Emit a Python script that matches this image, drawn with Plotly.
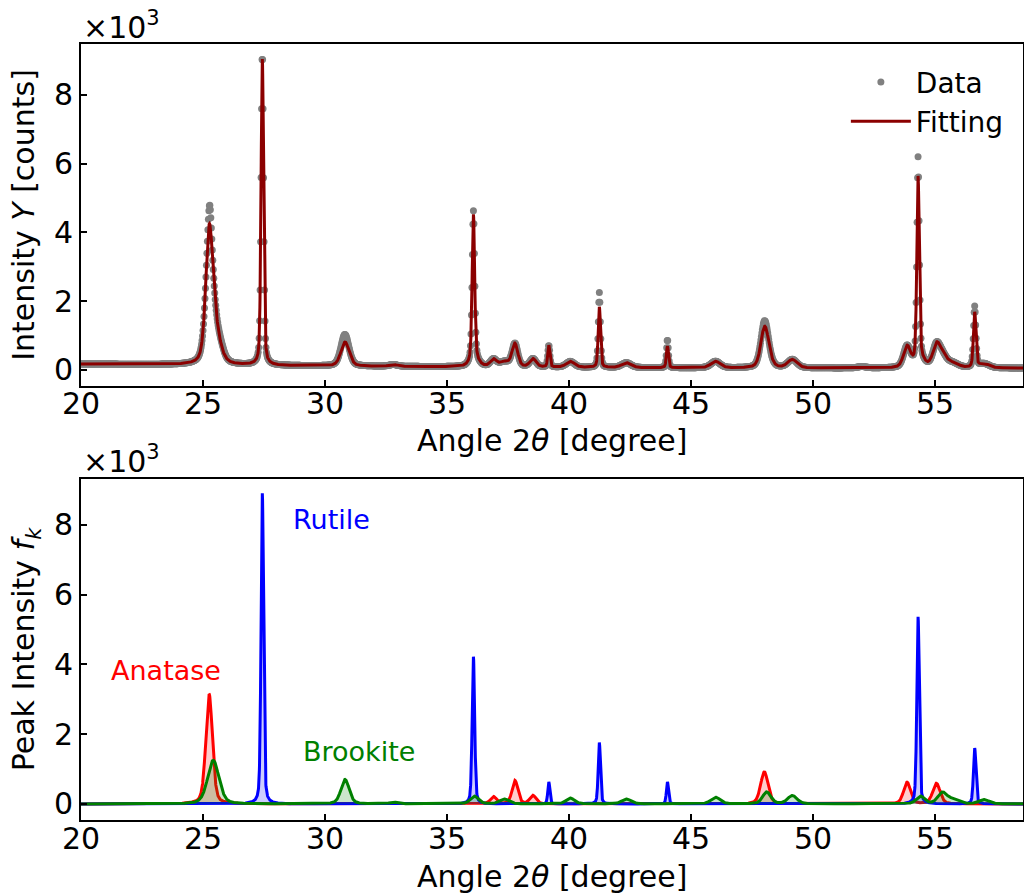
import numpy as np
import plotly.graph_objects as go

# ---------------- data ----------------
# peak parameters: centre (deg), height (counts), FWHM (deg)
anatase_pos = [25.25, 36.90, 37.78, 38.52, 48.00, 53.85, 55.05]
anatase_h = [3150, 210, 670, 240, 920, 620, 590]
anatase_w = [0.32, 0.30, 0.28, 0.30, 0.36, 0.34, 0.36]

rutile_pos = [27.43, 36.08, 39.17, 41.24, 44.03, 54.30, 56.62]
rutile_h = [8900, 4220, 630, 1760, 630, 5360, 1600]
rutile_w = [0.12, 0.12, 0.10, 0.11, 0.10, 0.12, 0.12]

brookite_pos = [25.42, 30.82, 32.80, 36.12, 37.35, 40.05, 42.35, 46.00, 48.10, 49.15, 54.40, 55.30, 55.75, 57.00]
brookite_h = [1250, 700, 50, 220, 140, 170, 140, 190, 340, 240, 220, 320, 120, 120]
brookite_w = [0.55, 0.40, 0.40, 0.40, 0.45, 0.40, 0.45, 0.45, 0.40, 0.45, 0.40, 0.45, 0.50, 0.50]

# extra intensity of the measured points above the fit
excess_pos = [25.28, 25.75, 27.43, 30.80, 36.08, 41.24, 44.03, 48.00, 54.30, 56.62, 52.00]
excess_h = [550, 120, 200, 220, 100, 420, 200, 160, 560, 170, 40]
excess_w = [0.14, 0.30, 0.06, 0.35, 0.06, 0.06, 0.06, 0.30, 0.06, 0.06, 0.40]

# smooth background of the fit (counts) at anchor angles
bg_angle = [20.0, 25.0, 30.0, 35.0, 40.0, 45.0, 50.0, 55.0, 58.6]
bg_counts = [170, 140, 110, 90, 70, 55, 50, 50, 50]

angle_start, angle_stop, angle_step = 20.0, 58.6, 0.02
x_ticks = [20, 25, 30, 35, 40, 45, 50, 55]
x_ticktext = ["20", "25", "30", "35", "40", "45", "50", "55"]
y_ticks = [0, 2000, 4000, 6000, 8000]
y_ticktext = ["0", "2", "4", "6", "8"]

# ---------------- build curves ----------------
x = np.arange(angle_start, angle_stop + 1e-9, angle_step)
x_fine = np.arange(angle_start, angle_stop + 1e-9, 0.005)
ETA = 0.35


def pv(xx, c, h, w):
    d = (xx - c) / w
    lor = 1.0 / (1.0 + 4.0 * d * d)
    gau = np.exp(-4.0 * np.log(2.0) * d * d)
    return h * (ETA * lor + (1 - ETA) * gau)


def phase(xx, pos, hs, ws):
    out = np.zeros_like(xx)
    for c, h, w in zip(pos, hs, ws):
        out += pv(xx, c, h, w)
    return out


ana_f = phase(x_fine, anatase_pos, anatase_h, anatase_w)
rut_f = phase(x_fine, rutile_pos, rutile_h, rutile_w)
bro_f = phase(x_fine, brookite_pos, brookite_h, brookite_w)
fit_f = ana_f + rut_f + bro_f + np.interp(x_fine, bg_angle, bg_counts)

data = (phase(x, anatase_pos, anatase_h, anatase_w)
        + phase(x, rutile_pos, rutile_h, rutile_w)
        + phase(x, brookite_pos, brookite_h, brookite_w)
        + phase(x, excess_pos, excess_h, excess_w)
        + np.interp(x, bg_angle, bg_counts))

FONT = "DejaVu Sans"
FS = 30
LW = 3
fig = go.Figure()

fig.add_trace(go.Scatter(x=x, y=data, mode="markers", name="Data",
                         marker=dict(color="#808080", size=7),
                         xaxis="x", yaxis="y"))
fig.add_trace(go.Scatter(x=x_fine, y=fit_f, mode="lines", name="Fitting",
                         line=dict(color="#8B0000", width=LW),
                         xaxis="x", yaxis="y"))

for yy, col, fillc in [(ana_f, "#FF0000", "rgba(255,0,0,0.2)"),
                       (rut_f, "#0000FF", "rgba(0,0,255,0.2)"),
                       (bro_f, "#008000", "rgba(0,128,0,0.2)")]:
    fig.add_trace(go.Scatter(x=x_fine, y=yy, mode="lines", fill="tozeroy",
                             fillcolor=fillc, line=dict(color=col, width=LW),
                             showlegend=False, xaxis="x2", yaxis="y2"))

axis_common = dict(showline=True, linecolor="black", linewidth=2, mirror=True,
                   ticks="inside", ticklen=6, tickwidth=2, tickcolor="black",
                   showgrid=False, zeroline=False, automargin=False,
                   tickfont=dict(family=FONT, size=FS, color="black"),
                   title_font=dict(family=FONT, size=FS, color="black"))

fig.update_layout(
    width=1024, height=894,
    margin=dict(l=81, r=1, t=44, b=74),
    paper_bgcolor="white", plot_bgcolor="white",
    font=dict(family=FONT, color="black"),
    xaxis=dict(domain=[0, 1], anchor="y", range=[angle_start, angle_stop],
               tickvals=x_ticks, showticklabels=False, **axis_common),
    yaxis=dict(domain=[0.5593, 1], anchor="x", range=[-470, 9480],
               tickvals=y_ticks, ticktext=y_ticktext,
               title=dict(text="Intensity <i>Y</i> [counts]", standoff=10),
               **axis_common),
    xaxis2=dict(domain=[0, 1], anchor="y2", range=[angle_start, angle_stop],
                tickvals=x_ticks, showticklabels=False, **axis_common),
    yaxis2=dict(domain=[0, 0.4394], anchor="x2", range=[-460, 9310],
                tickvals=y_ticks, ticktext=y_ticktext,
                title=dict(text="Peak Intensity <i>f<sub>k</sub></i>", standoff=10),
                **axis_common),
    legend=dict(x=0.985, xanchor="right", y=0.983, yanchor="top", itemwidth=60,
                bgcolor="rgba(0,0,0,0)", font=dict(family=FONT, size=28, color="black")),
    showlegend=True,
)

annos = [
    dict(text="×10<sup>3</sup>", xref="x domain", yref="y domain", x=0, y=1.0,
         xanchor="left", yanchor="bottom", showarrow=False, yshift=-3,
         font=dict(family=FONT, size=30, color="black")),
    dict(text="×10<sup>3</sup>", xref="x2 domain", yref="y2 domain", x=0, y=1.0,
         xanchor="left", yanchor="bottom", showarrow=False, yshift=-2,
         font=dict(family=FONT, size=30, color="black")),
    dict(text="Angle 2<i>θ</i> [degree]", xref="x domain", yref="y domain", x=0.5, y=0,
         xanchor="center", yanchor="middle", yshift=-55, showarrow=False,
         font=dict(family=FONT, size=FS, color="black")),
    dict(text="Angle 2<i>θ</i> [degree]", xref="x2 domain", yref="y2 domain", x=0.5, y=0,
         xanchor="center", yanchor="middle", yshift=-56, showarrow=False,
         font=dict(family=FONT, size=FS, color="black")),
    dict(text="Rutile", xref="x2", yref="y2", x=30.25, y=8140, showarrow=False,
         font=dict(family=FONT, size=27, color="#0000FF")),
    dict(text="Anatase", xref="x2", yref="y2", x=23.5, y=3810, showarrow=False,
         font=dict(family=FONT, size=27, color="#FF0000")),
    dict(text="Brookite", xref="x2", yref="y2", x=31.4, y=1490, showarrow=False,
         font=dict(family=FONT, size=27, color="#008000")),
]
# x tick labels placed close to the axis, as in the reference
for xr, yr in [("x", "y domain"), ("x2", "y2 domain")]:
    for tv, tt in zip(x_ticks, x_ticktext):
        annos.append(dict(text=tt, xref=xr, yref=yr, x=tv, y=0, xanchor="center",
                          yanchor="middle", yshift=-18, showarrow=False,
                          font=dict(family=FONT, size=FS, color="black")))
fig.update_layout(annotations=annos)

fig.write_html("out.html", config={"displayModeBar": False},
               post_script="document.body.style.margin='0px';")
